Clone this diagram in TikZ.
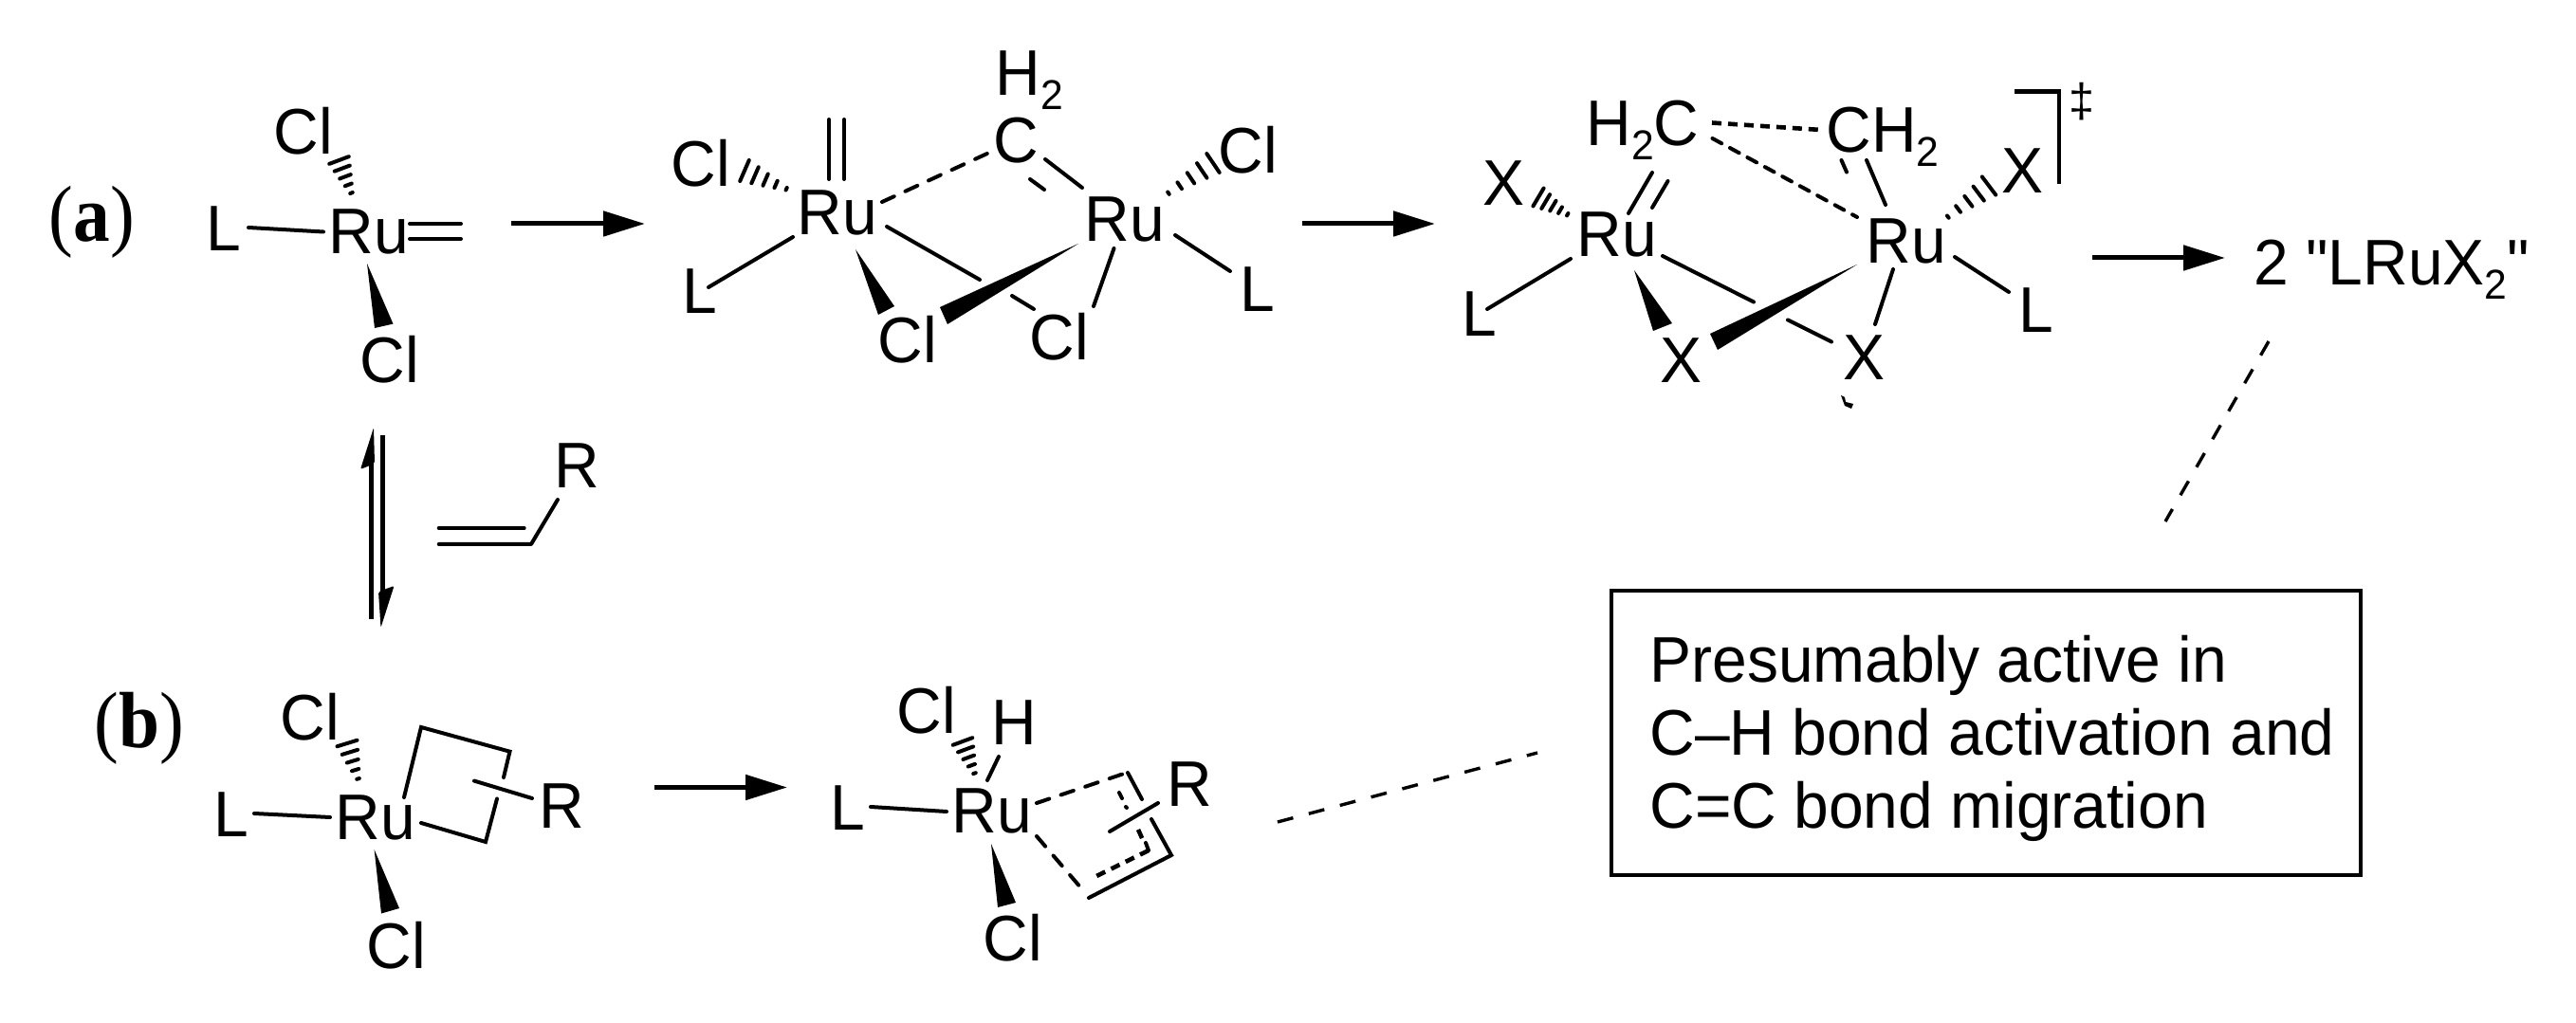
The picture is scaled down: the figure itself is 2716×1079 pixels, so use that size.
\documentclass[tikz,border=0pt]{standalone}
\usepackage{fontspec}
\newfontfamily\chemfont[FakeStretch=0.97]{Liberation Sans}
\newfontfamily\lblfont[FakeStretch=0.92]{Liberation Serif}
\usetikzlibrary{arrows.meta}
\newcommand\chemsub[1]{\raisebox{-7.5pt}{\fontsize{22}{22}\selectfont #1}}
\newcommand\hashb[5]{% narrow x,y; wide x,y; half width
  \pgfmathsetmacro\hdx{#3-(#1)}\pgfmathsetmacro\hdy{#4-(#2)}
  \pgfmathsetmacro\hlen{veclen(\hdx,\hdy)}
  \pgfmathsetmacro\hux{\hdx/\hlen}\pgfmathsetmacro\huy{\hdy/\hlen}
  \foreach \t in {0.04,0.28,0.52,0.76,1.0}{
    \pgfmathsetmacro\hpx{#1+\t*\hdx}\pgfmathsetmacro\hpy{#2+\t*\hdy}
    \pgfmathsetmacro\hw{#5*\t+1}
    \draw[hashst] ({\hpx-\hw*\huy},{\hpy+\hw*\hux}) -- ({\hpx+\hw*\huy},{\hpy-\hw*\hux});
  }}
\tikzset{
  atom/.style={inner sep=0pt, font=\chemfont\fontsize{34}{40}\selectfont},
  bond/.style={line width=2pt, line cap=round},
  hashst/.style={line width=2pt, line cap=round},
  dashbond/.style={line width=2pt, line cap=round, dash pattern=on 7pt off 6.5pt},
  dotbond/.style={line width=2.3pt, dash pattern=on 5pt off 3.5pt},
  rxn/.style={line width=2.5pt, -{Triangle[length=22pt,width=13pt]}},
  leader/.style={line width=1.7pt, dash pattern=on 8.5pt off 8.5pt},
  tag/.style={inner sep=0pt, font=\lblfont\fontsize{42}{44}\selectfont},
}
\begin{document}
\begin{tikzpicture}[x=0.5pt,y=-0.5pt]
\useasboundingbox (0,0) rectangle (2716,1079);
\fill[white] (0,0) rectangle (2716,1079);

% labels
\node[tag] (taga) at (97,234) {(\textbf{a})};
\node[tag] (tagb) at (147,768) {(\textbf{b})};

% ---- structure 1
\node[atom] (cl1a) at (320,138) {Cl};
\node[atom] (l1) at (236,241) {L};
\node[atom] (ru1) at (389,244) {Ru};
\node[atom] (cl1b) at (411,379) {Cl};
\draw[bond] (262,240) -- (341,244.5);
\draw[bond] (432,236) -- (486,236) (432,252) -- (486,252);
\hashb{371}{205}{357.5}{169}{10}
\fill (387,278) -- (395,346) -- (414.5,341.6) -- cycle;

% ---- structure 2
\node[atom] (cl2a) at (739,172) {Cl};
\node[atom] (ru2a) at (883,224) {Ru};
\node[atom] (ru2b) at (1186,231) {Ru};
\node[atom] (l2a) at (738,307) {L};
\node[atom] (cl2b) at (957,358) {Cl};
\node[atom] (cl2c) at (1117,355) {Cl};
\node[atom] (cl2d) at (1316,158) {Cl};
\node[atom] (l2b) at (1326,305) {L};
\node[atom] (c2) at (1071,148) {C};
\node[atom,anchor=base west] (h2) at (1049,101) {H\chemsub{2}};
\draw[bond] (874,126) -- (874,189) (890,126) -- (890,189);
\hashb{831}{200}{785}{180}{11}
\draw[bond] (836,250) -- (747,303);
\fill (902,263) -- (926,332) -- (943,323) -- cycle;
\draw[dashbond] (930,213) -- (1043,161);
\draw[bond] (1102,168) -- (1141,198);
\draw[bond] (1086,189) -- (1101,200);
\draw[bond] (935,239) -- (1033,295) (1067,312) -- (1090,326);
\fill (1137,257) -- (991,324) -- (999,342) -- cycle;
\draw[bond] (1174.5,262) -- (1153,323);
\draw[bond] (1239,248) -- (1297,286);
\hashb{1230}{205}{1279}{172}{11}

% ---- structure 3
\node[atom] (x3a) at (1585,193) {X};
\node[atom] (ru3a) at (1705,247) {Ru};
\node[atom] (ru3b) at (2010,254) {Ru};
\node[atom,anchor=base west] (h2c) at (1672,154) {H\chemsub{2}C};
\node[atom,anchor=base west] (ch2) at (1925,161) {CH\chemsub{2}};
\node[atom] (x3b) at (2132,180) {X};
\node[atom] (l3a) at (1560,331) {L};
\node[atom] (l3b) at (2147,327) {L};
\node[atom] (x3c) at (1772,380) {X};
\node[atom] (x3d) at (1965,377) {X};
\draw[dotbond] (1805,129.5) -- (1920,137);
\draw[dashbond,dash pattern=on 5.5pt off 5pt] (1805.5,146) -- (1958,229);
\draw[bond] (1968,169) -- (1988,216);
\draw[bond] (1941.5,169) -- (1947,181.5);
\draw[bond] (1742,182) -- (1717,225) (1758.5,191) -- (1742,219);
\hashb{1654}{227}{1622}{208}{10}
\draw[bond] (1656,273) -- (1568,326);
\fill (1723,285) -- (1743,349) -- (1763,341) -- cycle;
\draw[bond] (1753,270) -- (1849,318.5) (1885,337.5) -- (1931,360.5);
\fill (1958,279) -- (1803,352) -- (1811,369) -- cycle;
\draw[bond] (1996,284) -- (1977,342);
\draw[bond] (2061,271) -- (2118,308);
\hashb{2052}{230}{2097}{196}{11}
\draw[line width=2.4pt] (2124,96.5) -- (2171,96.5) -- (2171,194.5);
\node[inner sep=0pt, font=\chemfont\fontsize{25}{28}\selectfont] (ddag) at (2195,107) {‡};
\fill (1941,417) -- (1945,419) -- (1946,424) -- (1954,426) -- (1952,431) -- (1945,428) -- cycle;

% ---- product
\node[atom,anchor=base west] (prod) at (2376,301) {2 "LRuX\chemsub{2}"};

% ---- reaction arrows
\coordinate (a1s) at (539,236); \coordinate (a1e) at (680,236);
\coordinate (a2s) at (1373,236); \coordinate (a2e) at (1513,236);
\coordinate (a3s) at (2206,272); \coordinate (a3e) at (2346,272);
\coordinate (a4s) at (690,830.5); \coordinate (a4e) at (830,830.5);
\draw[rxn] (a1s) -- (a1e);
\draw[rxn] (a2s) -- (a2e);
\draw[rxn] (a3s) -- (a3e);
\draw[rxn] (a4s) -- (a4e);

% ---- equilibrium half arrows
\draw[line width=2.4pt] (391.7,653) -- (391.7,480);
\fill[rounded corners=1pt] (394,451) -- (380,495) -- (395,489) -- cycle;
\draw[line width=2.4pt] (403.3,459) -- (403.3,630);
\fill[rounded corners=1pt] (401.5,662) -- (415.5,618) -- (399,624) -- cycle;

% ---- alkene
\node[atom] (r0) at (608,491.5) {R};
\draw[bond] (462.7,557) -- (552.7,557);
\draw[bond,line join=round] (462.7,574) -- (560,574) -- (588,527);

% ---- structure b
\node[atom] (cl4a) at (327,756) {Cl};
\node[atom] (l4) at (244,859) {L};
\node[atom] (ru4) at (396,862) {Ru};
\node[atom] (cl4b) at (418,997) {Cl};
\node[atom] (r4) at (592,850) {R};
\draw[bond] (268,858) -- (348,862);
\hashb{378}{823}{366}{784}{10}
\fill (394.6,896) -- (402,963.5) -- (421,958) -- cycle;
\draw[bond,line join=miter] (426,841) -- (444,767) -- (537.5,792.7) -- (531,820);
\draw[bond,line join=miter] (524,842.5) -- (512,888) -- (444,868);
\draw[bond] (500,823.6) -- (561,842);

% ---- structure b product
\node[atom] (cl5a) at (977,749) {Cl};
\node[atom] (h5) at (1069,762) {H};
\node[atom] (l5) at (894,852) {L};
\node[atom] (ru5) at (1046,855) {Ru};
\node[atom] (cl5b) at (1068,989) {Cl};
\node[atom] (r5) at (1254,827) {R};
\draw[bond] (918,851) -- (998,856);
\hashb{1028}{817}{1015}{782}{10}
\draw[bond] (1053,798) -- (1041,823);
\fill (1045,890) -- (1052,957) -- (1071,952) -- cycle;
\draw[dashbond] (1093,847) -- (1185,816);
\draw[bond] (1189,815) -- (1204,843);
\draw[bond] (1180,836) -- (1183,842) (1187,851) -- (1188,852);
\draw[bond] (1170,877) -- (1221,847);
\draw[bond,line join=miter] (1214,864) -- (1235,902) -- (1148,947);
\draw[dashbond] (1093,882) -- (1141,938);
\draw[dotbond] (1200,875) -- (1205,886);
\draw[dotbond] (1211,897) -- (1150,927);
\draw[bond] (1208,889) -- (1211,897);

% ---- box
\node[draw, line width=2pt, minimum width=395pt, minimum height=150pt, inner sep=0pt] (box) at (2094,772.7) {};
\node[atom, anchor=west, align=left, font=\chemfont\fontsize{34}{38.4}\selectfont] (boxtext) at (1739,779) {Presumably active in\\C–H bond activation and\\C=C bond migration};

% ---- leaders
\coordinate (d1s) at (2392,360); \coordinate (d1e) at (2283,550);
\coordinate (d2s) at (1347,867); \coordinate (d2e) at (1621,794);
\draw[leader] (d1s) -- (d1e);
\draw[leader] (d2s) -- (d2e);
\end{tikzpicture}
\end{document}
